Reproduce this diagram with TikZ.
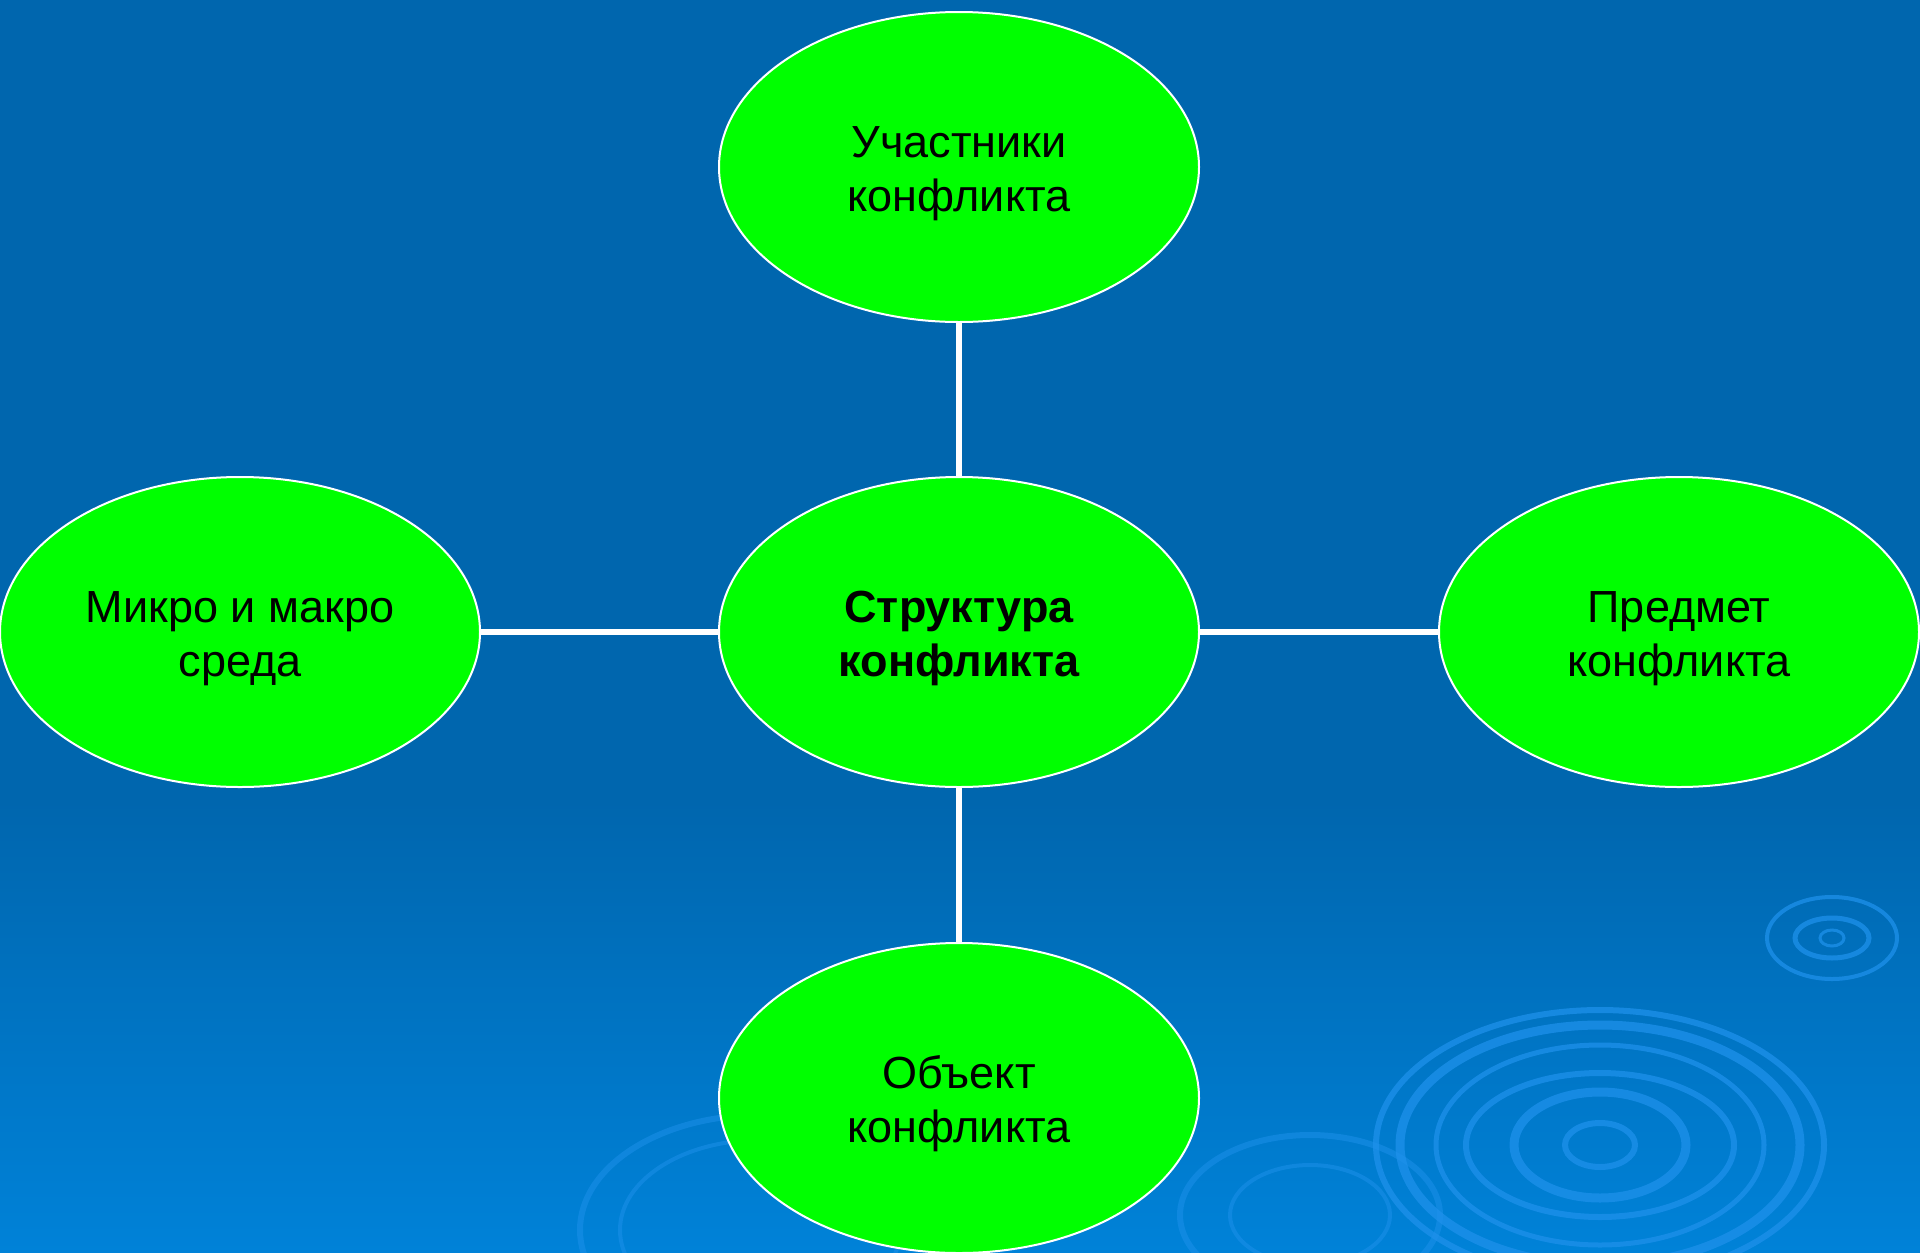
\documentclass[tikz,border=0pt]{standalone}
\usepackage{fontspec}
\setmainfont{Liberation Sans}
\usetikzlibrary{shapes.geometric}
\definecolor{bgTop}{RGB}{0,102,174}
\definecolor{bgBot}{RGB}{0,130,216}
\definecolor{ring}{RGB}{30,145,235}
\definecolor{ovalgreen}{RGB}{0,255,0}
\newcommand\toppad{\rule{0pt}{44pt}}
\tikzset{
  oval/.style={ellipse, draw=white, line width=2pt, fill=ovalgreen,
    minimum width=480pt, minimum height=310pt, inner sep=0pt,
    align=center, text=black, font=\fontsize{45}{54}\selectfont},
  link/.style={draw=white, line width=5.5pt},
  rip/.style={draw=ring, opacity=0.75}
}
\begin{document}
\begin{tikzpicture}[x=1pt,y=-1pt]
\useasboundingbox (0,0) rectangle (1920,1253);
\fill[bgTop] (0,0) rectangle (1920,801);
\fill[top color=bgTop, bottom color=bgBot] (0,800) rectangle (1920,1253);
% ripples (decoration)
\begin{scope}[rip]
  \draw[line width=6pt] (1600,1145) ellipse [x radius=224, y radius=135];
  \draw[line width=9pt] (1600,1145) ellipse [x radius=200, y radius=120];
  \draw[line width=5pt] (1600,1145) ellipse [x radius=164, y radius=100];
  \draw[line width=6pt] (1600,1145) ellipse [x radius=134, y radius=72];
  \draw[line width=9pt] (1600,1145) ellipse [x radius=86, y radius=53];
  \draw[line width=6pt] (1600,1145) ellipse [x radius=35, y radius=22];
  \draw[line width=4pt] (1832,938) ellipse [x radius=65, y radius=41];
  \draw[line width=5pt] (1832,938) ellipse [x radius=37, y radius=20];
  \draw[line width=3pt] (1832,938) ellipse [x radius=12, y radius=8];
  \draw[line width=6pt, opacity=0.5] (760,1230) ellipse [x radius=180, y radius=115];
  \draw[line width=4pt, opacity=0.5] (760,1230) ellipse [x radius=140, y radius=90];
  \draw[line width=6pt, opacity=0.5] (1310,1215) ellipse [x radius=130, y radius=80];
  \draw[line width=4pt, opacity=0.5] (1310,1215) ellipse [x radius=80, y radius=50];
\end{scope}
% nodes
\node[oval, font=\fontsize{45}{54}\selectfont\bfseries] (c) at (959,632) {\toppad Структура\\конфликта};
\node[oval] (t) at (959,167) {\toppad Участники\\конфликта};
\node[oval] (b) at (959,1098) {\toppad Объект\\конфликта};
\node[oval] (l) at (240,632) {\toppad Микро и макро\\среда};
\node[oval] (r) at (1679,632) {\toppad Предмет\\конфликта};
% connectors
\draw[link] (t.south) -- (c.north);
\draw[link] (c.south) -- (b.north);
\draw[link] (l.east) -- (c.west);
\draw[link] (c.east) -- (r.west);
\end{tikzpicture}
\end{document}
